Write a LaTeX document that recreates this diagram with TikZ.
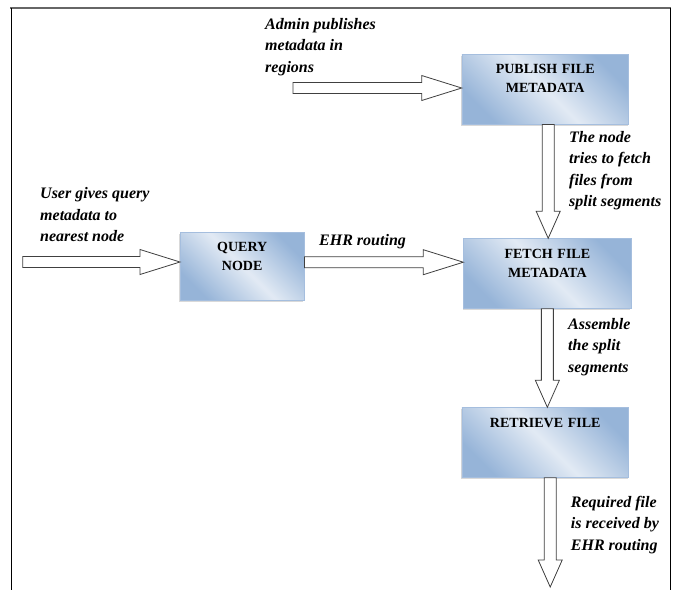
\documentclass[tikz,border=0pt]{standalone}
\usepackage{fontspec}
\setmainfont{Liberation Serif}
\usetikzlibrary{calc,shadows}
\definecolor{boxdark}{RGB}{150,180,216}
\definecolor{boxlight}{RGB}{226,234,244}
\definecolor{boxedge}{RGB}{165,190,222}
\begin{document}
\begin{tikzpicture}[x=1pt, y=-1pt, line join=miter,
    box/.style={draw=boxedge, left color=boxdark, right color=boxdark, middle color=boxlight, shading angle=-45,
      drop shadow={shadow xshift=-0.8pt, shadow yshift=-1.5pt, opacity=0.3},
      text width=#1, align=center, inner xsep=0pt, inner ysep=0pt, text height=19.6pt, text depth=50.4pt,
      font=\fontsize{14}{19}\selectfont\bfseries, anchor=north west},
    note/.style={anchor=base west, align=left, inner sep=0pt, font=\fontsize{16}{21.3}\selectfont\bfseries\itshape},
    blk/.style={draw=black!75, fill=white, line width=0.8pt}]
  \def\blockright#1#2{\draw[blk] let \p1=(#1), \p2=(#2) in
    (\x1,\y1-5.5) -- (\x2-40,\y1-5.5) -- (\x2-40,\y1-12.5) -- (\x2,\y1) -- (\x2-40,\y1+12.5) -- (\x2-40,\y1+5.5) -- (\x1,\y1+5.5) -- cycle;}
  \def\blockdown#1#2{\draw[blk] let \p1=(#1), \p2=(#2) in
    (\x1-6,\y1) -- (\x1-6,\y2+27) -- (\x1-12,\y2+27) -- (\x1,\y2) -- (\x1+12,\y2+27) -- (\x1+6,\y2+27) -- (\x1+6,\y1) -- cycle;}
  \useasboundingbox (0,0) rectangle (676,590);
  % frame
  \draw[black!60, line width=2pt] (10,8) -- (671,8);
  \draw[black, line width=0.8pt] (11,8) -- (11,590) (670,8) -- (670,590);
  % boxes
  \node[box=166.6pt] (pub) at (461.7,54) {PUBLISH FILE\\METADATA};
  \node[box=167.7pt] (fetch) at (463.3,238.3) {FETCH FILE\\METADATA};
  \node[box=124pt, text depth=48.4pt] (query) at (180,232) {QUERY\\NODE};
  \node[box=166.6pt] (retr) at (461.7,407.3) {RETRIEVE FILE};
  % free ends
  \coordinate (userin) at (22.7,262);
  \coordinate (adminin) at (293,88);
  \coordinate (sink) at (550,587);
  % block arrows
  \blockright{adminin}{pub.west}
  \blockright{userin}{query.west}
  \blockright{[yshift=4pt]query.east}{fetch.west}
  \blockdown{[xshift=3pt]pub.south}{fetch.north}
  \blockdown{fetch.south}{retr.north}
  \blockdown{[xshift=5pt]retr.south}{sink}
  % notes (placed by the baseline of their last line)
  \node[note] (admin) at (265,72) {Admin publishes\\metadata in\\regions};
  \node[note] (tryfetch) at (569,206.5) {The node\\tries to fetch\\files from\\split segments};
  \node[note] (user) at (40,241.5) {User gives query\\metadata to\\nearest node};
  \node[note] (ehr) at (319,245) {EHR routing};
  \node[note] (assemble) at (568,372) {Assemble\\the split\\segments};
  \node[note] (recv) at (570.7,550) {Required file\\is received by\\EHR routing};
\end{tikzpicture}
\end{document}
